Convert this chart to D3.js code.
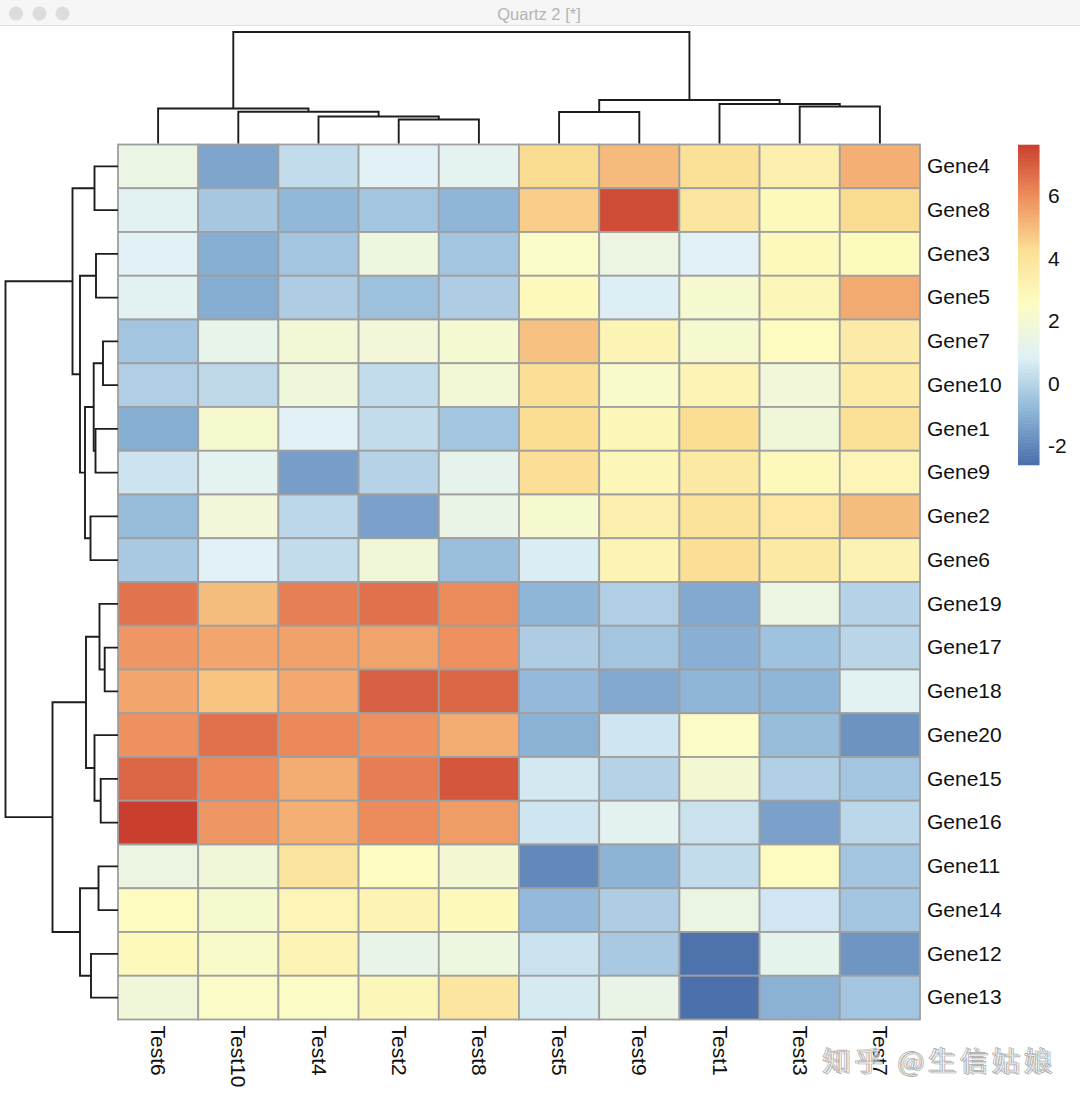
<!DOCTYPE html>
<html><head><meta charset="utf-8">
<script src="https://cdn.jsdelivr.net/npm/d3@7"></script>
<style>html,body{margin:0;padding:0;background:#fff;overflow:hidden}svg{display:block}text{font-family:"Liberation Sans",Arial,sans-serif}</style>
</head><body><svg id="c" width="1080" height="1106"></svg>
<script>
const windowTitle = "Quartz 2 [*]";
const watermark = "知乎 @生信姑娘";
const colLabels = ["Test6","Test10","Test4","Test2","Test8","Test5","Test9","Test1","Test3","Test7"];
const rowLabels = ["Gene4","Gene8","Gene3","Gene5","Gene7","Gene10","Gene1","Gene9","Gene2","Gene6","Gene19","Gene17","Gene18","Gene20","Gene15","Gene16","Gene11","Gene14","Gene12","Gene13"];
const values = [
[1.4,-1.3,0.2,0.85,1.05,4.3,5.0,4.1,3.3,5.25],
[0.9,-0.4,-0.85,-0.45,-0.9,4.6,7.3,3.8,2.7,4.3],
[0.85,-1.1,-0.45,1.6,-0.45,2.3,1.45,0.85,2.75,2.65],
[0.9,-1.15,-0.25,-0.6,-0.25,2.7,0.75,2.1,2.85,5.35],
[-0.45,1.25,1.85,1.8,2.0,4.85,3.0,2.1,2.6,3.5],
[-0.2,0.1,1.7,0.2,1.85,4.2,2.2,3.05,1.8,3.6],
[-1.1,2.1,0.85,0.2,-0.45,4.25,2.85,4.25,1.75,4.1],
[0.4,1.05,-1.5,-0.1,1.15,4.2,2.85,3.65,2.7,2.9],
[-0.7,1.8,0.05,-1.4,1.35,2.1,3.35,4.0,3.7,4.95],
[-0.35,0.85,0.2,1.75,-0.65,0.7,3.0,4.2,3.65,3.1],
[6.5,4.95,6.25,6.55,6.0,-0.9,-0.2,-1.2,1.45,-0.1],
[5.75,5.45,5.55,5.5,5.9,-0.25,-0.45,-1.05,-0.55,0.0],
[5.45,4.8,5.4,6.9,6.75,-0.8,-1.2,-0.9,-0.9,0.95],
[5.9,6.55,6.05,5.9,5.3,-1.0,0.45,2.35,-0.7,-1.75],
[6.75,6.05,5.3,6.3,7.1,0.55,-0.1,1.95,-0.15,-0.45],
[7.6,5.75,5.25,6.0,5.65,0.45,1.0,0.35,-1.4,0.05],
[1.45,1.75,3.9,2.5,1.95,-2.0,-0.95,0.2,2.6,-0.45],
[2.6,2.1,2.9,3.05,2.7,-0.8,-0.25,1.4,0.5,-0.45],
[2.7,2.25,3.05,1.3,1.6,0.35,-0.35,-2.55,1.1,-1.7],
[1.75,2.35,2.4,2.85,3.85,0.6,1.35,-2.6,-1.0,-0.45]
];
const legendTicks = [-2,0,2,4,6];
const colorStops = ["#4b70ab","#8fb6d8","#e0f1f6","#fdfcc2","#fbdf95","#ee8f5e","#c83d2e"];
const valueMin = -2.6, valueMax = 7.63;
// dendrograms: [height, leftChild, rightChild]; a leaf is its label index
const colTree = [111.5,
  [35,0,[31.8,1,[27,2,[24,3,4]]]],
  [43.5,[31.5,5,6],[39.5,7,[37,8,9]]]];
const rowTree = [112.5,
  [45.5,[23.5,0,1],[38,[22,2,3],[33,[24.3,[15,4,5],[22.5,6,7]],[27.5,8,9]]]],
  [65.5,[32,[18.5,10,[13.3,11,12]],[23.5,13,[17.3,14,15]]],[38,[19.5,16,17],[27,18,19]]]];
const colTreeMax = 111.5, rowTreeMax = 112.5;

const svg = d3.select("#c");
const labelFont = '"Liberation Sans",Arial,sans-serif';
const x = d3.scaleBand().domain(colLabels).range([118,920]);
const y = d3.scaleBand().domain(rowLabels).range([144.5,1019.5]);
const color = d3.scaleLinear()
  .domain(d3.range(colorStops.length).map(i => valueMin + i*(valueMax-valueMin)/(colorStops.length-1)))
  .range(colorStops).interpolate(d3.interpolateRgb);

// window chrome
svg.append("rect").attr("x",0).attr("y",0).attr("width",1080).attr("height",26).attr("fill","#f6f6f6");
svg.append("line").attr("x1",0).attr("x2",1080).attr("y1",25.5).attr("y2",25.5).attr("stroke","#dedede");
svg.selectAll("circle.btn").data([16,39.5,62.5]).enter().append("circle").attr("class","btn")
  .attr("cx",d=>d).attr("cy",13.5).attr("r",7).attr("fill","#dcdcdc");
svg.append("text").attr("x",539).attr("y",19.5).attr("text-anchor","middle").attr("font-size",16.5).attr("fill","#b4b4b4").text(windowTitle);

// heat cells
const cells = [];
values.forEach((r,i)=>r.forEach((v,j)=>cells.push({r:rowLabels[i],c:colLabels[j],v})));
svg.append("g").selectAll("rect").data(cells).enter().append("rect")
  .attr("x",d=>x(d.c)).attr("y",d=>y(d.r)).attr("width",x.bandwidth()).attr("height",y.bandwidth())
  .attr("fill",d=>color(d.v)).attr("stroke","#9f9f9f").attr("stroke-width",1.8);

// dendrograms
const colH = d3.scaleLinear().domain([0,colTreeMax]).range([143.5,32]);
const rowH = d3.scaleLinear().domain([0,rowTreeMax]).range([118,5.5]);
function drawTree(g,node,leafPos,hScale,vertical){
  if(!Array.isArray(node)) return {pos:leafPos(node),h:0};
  const a = drawTree(g,node[1],leafPos,hScale,vertical);
  const b = drawTree(g,node[2],leafPos,hScale,vertical);
  const H = hScale(node[0]), ha = hScale(a.h), hb = hScale(b.h);
  const d = vertical
    ? `M${a.pos},${ha}V${H}H${b.pos}V${hb}`
    : `M${ha},${a.pos}H${H}V${b.pos}H${hb}`;
  g.append("path").attr("d",d).attr("fill","none").attr("stroke","#1d1d1d").attr("stroke-width",1.9);
  return {pos:(a.pos+b.pos)/2,h:node[0]};
}
drawTree(svg.append("g"),colTree,i=>x(colLabels[i])+x.bandwidth()/2,colH,true);
drawTree(svg.append("g"),rowTree,i=>y(rowLabels[i])+y.bandwidth()/2,rowH,false);

// row labels
const rowAxis = svg.append("g").attr("transform","translate(920,0)")
  .call(d3.axisRight(y).tickSize(0).tickPadding(7));
rowAxis.select(".domain").remove();
rowAxis.selectAll("text").attr("font-size",21).attr("fill","#111").style("font-family",labelFont);

// column labels
const colAxis = svg.append("g").attr("transform","translate(0,1019.5)")
  .call(d3.axisBottom(x).tickSize(0).tickPadding(0));
colAxis.select(".domain").remove();
colAxis.selectAll("text").attr("font-size",21).attr("fill","#111")
  .style("font-family",labelFont)
  .attr("text-anchor","start").attr("dy",0)
  .attr("transform","translate(-7,6) rotate(90)").attr("x",0).attr("y",0);

// legend
const legendScale = d3.scaleLinear().domain([valueMin,valueMax]).range([465,145]);
const steps = d3.range(100).map(i=>valueMin+i*(valueMax-valueMin)/100);
const stepH = 320/100;
svg.append("g").selectAll("rect").data(steps).enter().append("rect")
  .attr("x",1018).attr("width",21.5)
  .attr("y",d=>legendScale(d)-stepH-0.3).attr("height",stepH+0.6).attr("fill",d=>color(d));
const legendAxis = svg.append("g").attr("transform","translate(1039,0)")
  .call(d3.axisRight(legendScale).tickValues(legendTicks).tickSize(0).tickPadding(9).tickFormat(d=>d));
legendAxis.select(".domain").remove();
legendAxis.selectAll("text").attr("font-size",21).attr("fill","#111").style("font-family",labelFont);

// watermark (ghosted double print)
[[0,0],[2.5,0.5]].forEach(o=>{
  svg.append("text").attr("x",822+o[0]).attr("y",1071+o[1]).attr("font-size",27).attr("letter-spacing",5)
    .attr("fill","#fff").attr("fill-opacity",0.55).attr("stroke","#a8a8a8").attr("stroke-width",0.7)
    .style("font-family",'"Noto Sans CJK SC"').text(watermark);
});
</script></body></html>
